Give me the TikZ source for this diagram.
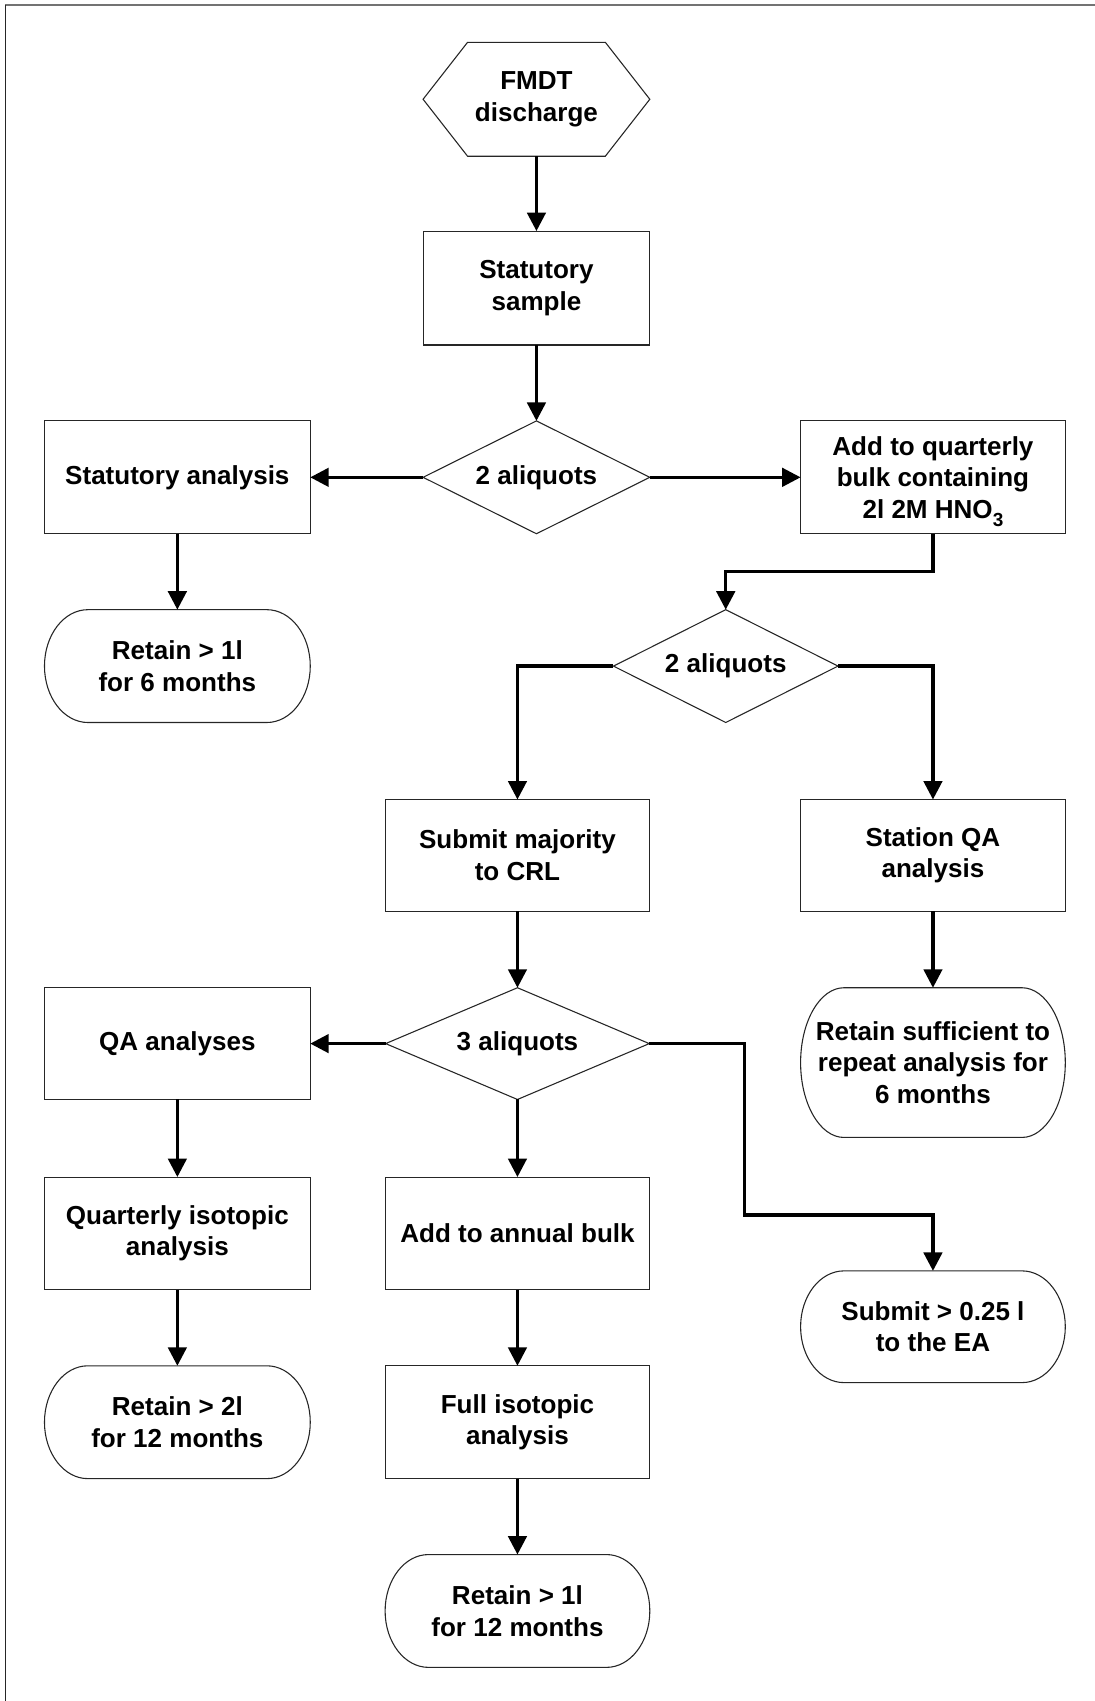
\documentclass[tikz,border=0pt]{standalone}
\usepackage{fontspec}
\setmainfont{Liberation Sans}
\usetikzlibrary{arrows.meta,calc}

\tikzset{
  label text/.style={font=\fontsize{24pt}{29pt}\selectfont\bfseries, align=center,
    inner sep=0pt, outer sep=0pt, minimum height=104pt},
  box/.style={label text, draw=black!85, line width=1pt},
  shapeonly/.style={label text, draw=none},
  outline/.style={draw=black!85, line width=1pt},
  conn/.style={line width=3pt, -{Triangle[length=17pt,width=17pt]}},
}

% low-set subscript that leaves the line height untouched
\newcommand\lowsub[1]{\raisebox{-7.5pt}[0pt][0pt]{\fontsize{17.5pt}{17.5pt}\selectfont #1}}

% outlines for the non-rectangular shapes, drawn around plain rectangle nodes
\newcommand\hexoutline[1]{\draw[outline] (#1.west) -- ([xshift=41pt]#1.north west)
  -- ([xshift=-41pt]#1.north east) -- (#1.east) -- ([xshift=-41pt]#1.south east)
  -- ([xshift=41pt]#1.south west) -- cycle;}
\newcommand\decisionoutline[1]{\draw[outline] (#1.north) -- (#1.east) -- (#1.south)
  -- (#1.west) -- cycle;}
\newcommand\termoutline[1]{\draw[outline] let \p1=(#1.north west), \p2=(#1.south east),
  \n1={(\y1-\y2)/2} in (\x1+40pt,\y1) -- (\x2-40pt,\y1)
  arc[start angle=90, end angle=-90, x radius=40pt, y radius={\n1*1pt}]
  -- (\x1+40pt,\y2)
  arc[start angle=270, end angle=90, x radius=40pt, y radius={\n1*1pt}] -- cycle;}

\begin{document}
\begin{tikzpicture}[x=1pt, y=-1pt]
\useasboundingbox (0,0) rectangle (1009,1568);

% frame
\draw[black!55, line width=1.6pt] (5,4.5) -- (1009,4.5);
\draw[black!85, line width=1.6pt] (5,4.5) -- (5,1568);

% nodes
\node[shapeonly, minimum width=209pt, minimum height=105pt] (hex) at (494.5,91.5) {FMDT\\discharge};
\node[box, minimum width=209pt, minimum height=105pt] (ss) at (494.5,265.5) {Statutory\\sample};
\node[shapeonly, minimum width=209pt] (d1) at (494.5,440) {2 aliquots};
\node[box, minimum width=245pt] (sa) at (163.5,440) {Statutory analysis};
\node[box, minimum width=244pt] (aq) at (860,440) {Add to quarterly\\bulk containing\\2l 2M HNO\lowsub{3}};
\node[shapeonly, minimum width=245pt] (r6) at (163.5,614) {Retain > 1l\\for 6 months};
\node[shapeonly, minimum width=207pt] (d2) at (669,614) {2 aliquots};
\node[box, minimum width=244pt, minimum height=103pt] (sm) at (477,788.5) {Submit majority\\to CRL};
\node[box, minimum width=244pt, minimum height=103pt] (qa) at (860,788.5) {Station QA\\analysis};
\node[shapeonly, minimum width=243pt, minimum height=103pt] (d3) at (477,962) {3 aliquots};
\node[box, minimum width=245pt, minimum height=103pt] (qaa) at (163.5,962) {QA analyses};
\node[shapeonly, minimum width=244pt, minimum height=138pt] (rs) at (860,979.5) {Retain sufficient to\\repeat analysis for\\6 months};
\node[box, minimum width=245pt] (qi) at (163.5,1137) {Quarterly isotopic\\analysis};
\node[box, minimum width=244pt] (ab) at (477,1137) {Add to annual bulk};
\node[shapeonly, minimum width=244pt, minimum height=103pt] (ea) at (860,1223) {Submit > 0.25 l\\to the EA};
\node[shapeonly, minimum width=245pt] (r2) at (163.5,1311) {Retain > 2l\\for 12 months};
\node[box, minimum width=244pt] (fi) at (477,1311) {Full isotopic\\analysis};
\node[shapeonly, minimum width=244pt] (r1) at (477,1485) {Retain > 1l\\for 12 months};

% outlines of special shapes
\hexoutline{hex}
\decisionoutline{d1}
\decisionoutline{d2}
\decisionoutline{d3}
\termoutline{r6}
\termoutline{rs}
\termoutline{ea}
\termoutline{r2}
\termoutline{r1}

% connectors
\coordinate (bend) at (686.5,1120);
\draw[conn] (hex.south) -- (ss.north);
\draw[conn] (ss.south) -- (d1.north);
\draw[conn] (d1.west) -- (sa.east);
\draw[conn] (d1.east) -- (aq.west);
\draw[conn] (sa.south) -- (r6.north);
\draw[conn] (aq.south) -- ++(0,35) -| (d2.north);
\draw[conn] (d2.west) -| (sm.north);
\draw[conn] (d2.east) -| (qa.north);
\draw[conn] (sm.south) -- (d3.north);
\draw[conn] (qa.south) -- (rs.north);
\draw[conn] (d3.west) -- (qaa.east);
\draw[conn] (d3.east) -| (bend) -| (ea.north);
\draw[conn] (d3.south) -- (ab.north);
\draw[conn] (qaa.south) -- (qi.north);
\draw[conn] (qi.south) -- (r2.north);
\draw[conn] (ab.south) -- (fi.north);
\draw[conn] (fi.south) -- (r1.north);
\end{tikzpicture}
\end{document}
